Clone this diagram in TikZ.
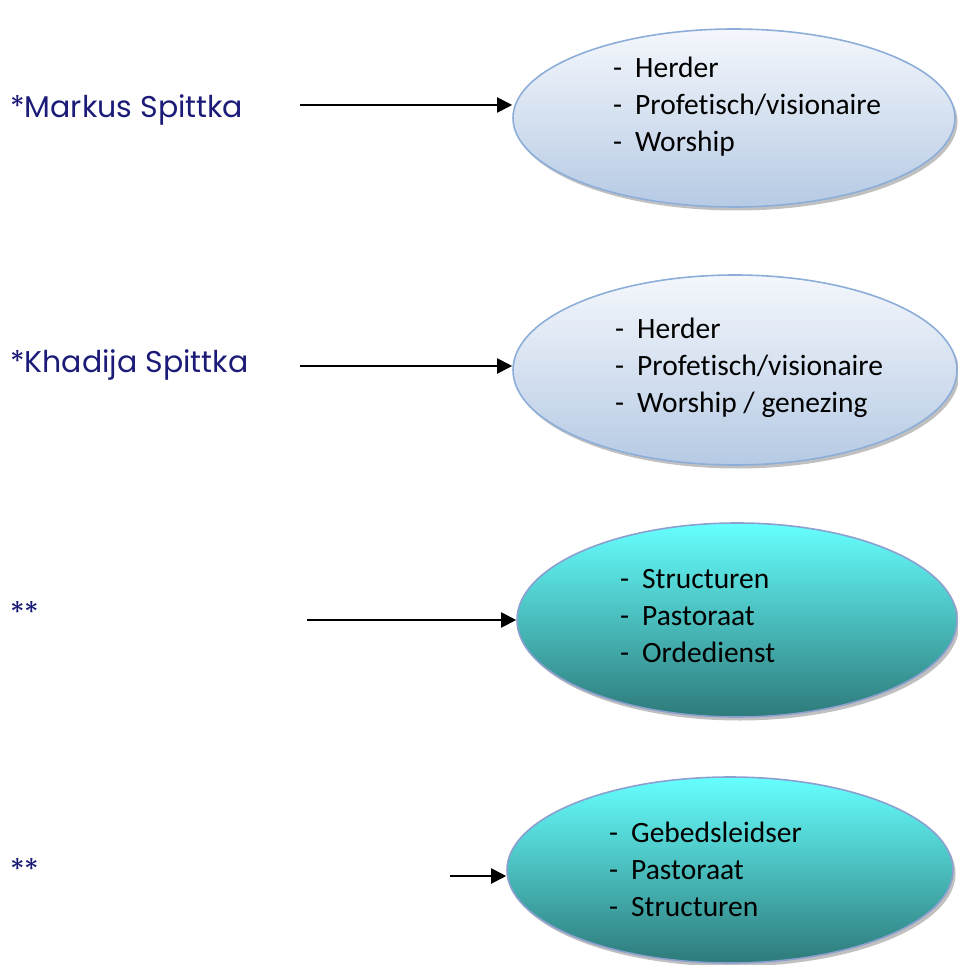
\documentclass[tikz,border=0pt]{standalone}
\usepackage{fontspec}
\usetikzlibrary{shapes.geometric,shadows,arrows.meta}
\newfontfamily\labelfont{Poppins}
\newfontfamily\bodyfont[Ligatures=NoCommon]{Carlito}
\definecolor{navytext}{RGB}{28,28,120}
\definecolor{blueTop}{RGB}{244,247,252}
\definecolor{blueBot}{RGB}{182,202,228}
\definecolor{blueEdge}{RGB}{140,174,216}
\definecolor{cyanTop}{RGB}{102,255,255}
\definecolor{cyanBot}{RGB}{46,122,122}
\definecolor{cyanEdge}{RGB}{140,160,208}
\tikzset{
  lbl/.style={anchor=west,inner sep=0pt,font=\labelfont\fontsize{30}{36}\selectfont,text=navytext},
  bubble/.style={ellipse,inner sep=0pt,line width=1.6pt,
     drop shadow={shadow xshift=2.5pt,shadow yshift=-3.5pt,fill=black!45,opacity=.55}},
  blueb/.style={bubble,draw=blueEdge,top color=blueTop,bottom color=blueBot},
  cyanb/.style={bubble,draw=cyanEdge,top color=cyanTop,bottom color=cyanBot},
  items/.style={anchor=west,inner sep=0pt,align=left,font=\bodyfont\fontsize{29.5}{37}\selectfont},
  arr/.style={line width=2pt,-{Triangle[length=15pt,width=15pt]}}
}
\newcommand{\dashitem}[1]{\makebox[22pt][l]{-}#1}
\begin{document}
\begin{tikzpicture}[x=1pt,y=-1pt]
\useasboundingbox (0,0) rectangle (957,965);
% bubbles
\node[blueb,minimum width=442pt,minimum height=178pt] (e1) at (734,118) {};
\node[blueb,minimum width=444pt,minimum height=190pt] (e2) at (735,370) {};
\node[cyanb,minimum width=440pt,minimum height=194pt] (e3) at (737,620) {};
\node[cyanb,minimum width=446pt,minimum height=186pt] (e4) at (730,870) {};
% bubble texts
\node[items] (t1) at (613,107) {\dashitem{Herder}\\\dashitem{Profetisch/visionaire}\\\dashitem{Worship}};
\node[items] (t2) at (615,368) {\dashitem{Herder}\\\dashitem{Profetisch/visionaire}\\\dashitem{Worship / genezing}};
\node[items] (t3) at (620,616) {\dashitem{Structuren}\\\dashitem{Pastoraat}\\\dashitem{Ordedienst}};
\node[items] (t4) at (609,869) {\dashitem{Gebedsleidser}\\\dashitem{Pastoraat}\\\dashitem{Structuren}};
% labels
\node[lbl] (l1) at (10,110) {*Markus Spittka};
\node[lbl] (l2) at (10,365) {*Khadija Spittka};
\node[lbl] (l3) at (10,612) {**};
\node[lbl] (l4) at (10,869) {**};
% arrows
\coordinate (s1) at (300,105);
\coordinate (s2) at (300,366);
\coordinate (s3) at (307,620);
\coordinate (s4) at (450,876);
\draw[arr] (s1) -- (s1 -| e1.west);
\draw[arr] (s2) -- (s2 -| e2.west);
\draw[arr] (s3) -- (s3 -| e3.west);
\draw[arr] (s4) -- (s4 -| e4.west);
\end{tikzpicture}
\end{document}
